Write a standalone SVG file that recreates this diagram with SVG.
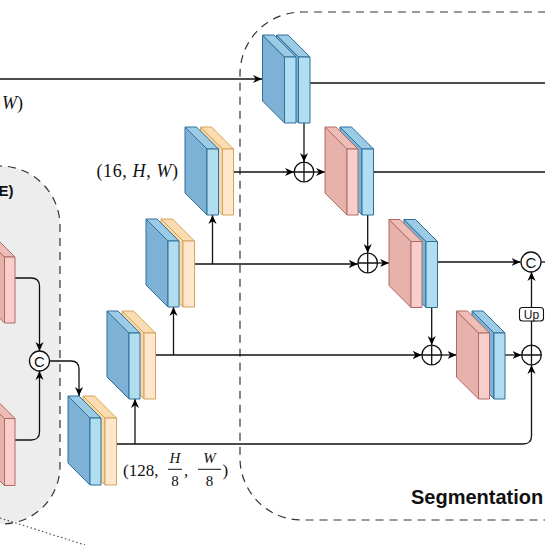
<svg xmlns="http://www.w3.org/2000/svg" width="545" height="545" viewBox="0 0 545 545">
<defs>
<marker id="arr" viewBox="0 0 10 10" refX="10" refY="5" markerWidth="9" markerHeight="9" orient="auto" markerUnits="userSpaceOnUse"><path d="M0,0.5 L10,5 L0,9.5 L3,5 z" fill="#000"/></marker>
<style>
.region{fill:none;stroke:#333;stroke-width:1.2;stroke-dasharray:8 6}
.gray{fill:#ededed;stroke:#333;stroke-width:1.2;stroke-dasharray:8 6}
.b .side{fill:#7eb1d6}.b .top{fill:#9ccbe6}.b .front{fill:#b1ddf0}
.b polygon,.b rect{stroke:#2f6f98;stroke-width:1;stroke-linejoin:round}
.y .side{fill:#f7d8a8}.y .top{fill:#fbdcb0}.y .front{fill:#ffe6cc}
.y polygon,.y rect{stroke:#d2a45c;stroke-width:1;stroke-linejoin:round}
.p .side{fill:#e6b2ab}.p .top{fill:#efbdb7}.p .front{fill:#f8cecc}
.p polygon,.p rect{stroke:#b06a62;stroke-width:1;stroke-linejoin:round}
.ln{fill:none;stroke:#111;stroke-width:1.3}
.ar{marker-end:url(#arr)}
.op{fill:#fff;stroke:#111;stroke-width:1.3}
.math{font-family:"Liberation Serif","DejaVu Serif",serif;fill:#111}
.sans{font-family:"Liberation Sans",Arial,sans-serif;fill:#111}
</style>
</defs>
<rect width="545" height="545" fill="#fff"/>
<!-- regions -->
<path class="gray" d="M-20,166 H0 A60,60 0 0 1 60,226 V466 A58,58 0 0 1 2,524 H-20 Z"/>
<path class="region" d="M560,12 H302 A62,62 0 0 0 240,74 V458 A62,62 0 0 0 302,520 H560"/>
<text class="sans" x="13.5" y="196" font-size="15" font-weight="bold" text-anchor="end">E)</text>
<text class="sans" x="411" y="504" font-size="20" font-weight="bold">Segmentation</text>
<!-- connectors -->
<g id="connectors">
<path class="ln ar" d="M0,79 H262"/>
<path class="ln" d="M310,83 H545"/>
<path class="ln" d="M373.5,172 H545"/>
<path class="ln ar" d="M233.5,172 H294"/>
<path class="ln ar" d="M194.5,264 H357.7"/>
<path class="ln ar" d="M155.5,355 H421.7"/>
<path class="ln ar" d="M116.5,444 H523 Q531.5,444 531.5,436 V365"/>
<path class="ln ar" d="M135,444 V399"/>
<path class="ln ar" d="M173.5,355 V307"/>
<path class="ln ar" d="M212.5,264 V215"/>
<path class="ln ar" d="M304,123 V162"/>
<path class="ln ar" d="M367.7,215 V253"/>
<path class="ln ar" d="M431.7,307.5 V345"/>
<path class="ln ar" d="M314,172 H325"/>
<path class="ln ar" d="M377.7,263 H389"/>
<path class="ln ar" d="M441.7,355 H456.5"/>
<path class="ln ar" d="M437.5,262 H520.5"/>
<path class="ln ar" d="M505,355 H521.5"/>
<path class="ln" d="M531.5,345 V321"/>
<path class="ln ar" d="M531.5,307.5 V272"/>
<path class="ln" d="M541,262 H545"/>
<path class="ln ar" d="M15,278 H31 Q39.5,278 39.5,286 V351"/>
<path class="ln ar" d="M15,440 H31 Q39.5,440 39.5,432 V371"/>
<path class="ln ar" d="M49.5,361 H71 Q79,361 79,369 V396"/>
<path fill="none" stroke="#444" stroke-width="1.1" stroke-dasharray="1.5 2.5" d="M0,518 L85,545"/>
</g>
<!-- encoder blocks -->
<g id="enc1">
<g class="y"><polygon class="side" points="200.5,127 222.5,149 222.5,215 200.5,193"/><polygon class="top" points="200.5,127 211.5,127 233.5,149 222.5,149"/><rect class="front" x="222.5" y="149" width="11" height="66"/></g>
<g class="b"><polygon class="side" points="185,127 207,149 207,215 185,193"/><polygon class="top" points="185,127 196.5,127 218.5,149 207,149"/><rect class="front" x="207" y="149" width="11.5" height="66"/></g>
</g>
<g id="enc2">
<g class="y"><polygon class="side" points="161,219 183,241 183,307 161,285"/><polygon class="top" points="161,219 172.5,219 194.5,241 183,241"/><rect class="front" x="183" y="241" width="11.5" height="66"/></g>
<g class="b"><polygon class="side" points="146,219 168,241 168,307 146,285"/><polygon class="top" points="146,219 157,219 179,241 168,241"/><rect class="front" x="168" y="241" width="11" height="66"/></g>
</g>
<g id="enc3">
<g class="y"><polygon class="side" points="122,311 144,333 144,399 122,377"/><polygon class="top" points="122,311 133.5,311 155.5,333 144,333"/><rect class="front" x="144" y="333" width="11.5" height="66"/></g>
<g class="b"><polygon class="side" points="107,311 129,333 129,399 107,377"/><polygon class="top" points="107,311 118,311 140,333 129,333"/><rect class="front" x="129" y="333" width="11" height="66"/></g>
</g>
<g id="enc4">
<g class="y"><polygon class="side" points="83,396 105,418 105,485 83,463"/><polygon class="top" points="83,396 94.5,396 116.5,418 105,418"/><rect class="front" x="105" y="418" width="11.5" height="67"/></g>
<g class="b"><polygon class="side" points="68,396 90,418 90,485 68,463"/><polygon class="top" points="68,396 79,396 101,418 90,418"/><rect class="front" x="90" y="418" width="11" height="67"/></g>
</g>
<!-- left pink blocks -->
<g id="left1" class="p"><polygon class="side" points="-17.5,235 4.5,257 4.5,323 -17.5,301"/><polygon class="top" points="-17.5,235 -7,235 15,257 4.5,257"/><rect class="front" x="4.5" y="257" width="10.5" height="66"/></g>
<g id="left2" class="p"><polygon class="side" points="-17.5,396.5 4.5,418.5 4.5,485.5 -17.5,463.5"/><polygon class="top" points="-17.5,396.5 -7,396.5 15,418.5 4.5,418.5"/><rect class="front" x="4.5" y="418.5" width="10.5" height="67"/></g>
<!-- decoder blocks -->
<g id="dec1">
<g class="b"><polygon class="side" points="276.5,35 298.5,57 298.5,123 276.5,101"/><polygon class="top" points="276.5,35 288,35 310,57 298.5,57"/><rect class="front" x="298.5" y="57" width="11.5" height="66"/></g>
<g class="b"><polygon class="side" points="262.5,35 284.5,57 284.5,123 262.5,101"/><polygon class="top" points="262.5,35 274,35 296,57 284.5,57"/><rect class="front" x="284.5" y="57" width="11.5" height="66"/></g>
</g>
<g id="dec2">
<g class="b"><polygon class="side" points="340,127 362,149 362,215 340,193"/><polygon class="top" points="340,127 351.5,127 373.5,149 362,149"/><rect class="front" x="362" y="149" width="11.5" height="66"/></g>
<g class="p"><polygon class="side" points="325,127 347,149 347,215 325,193"/><polygon class="top" points="325,127 336,127 358,149 347,149"/><rect class="front" x="347" y="149" width="11" height="66"/></g>
</g>
<g id="dec3">
<g class="b"><polygon class="side" points="404,219.5 426,241.5 426,307.5 404,285.5"/><polygon class="top" points="404,219.5 415.5,219.5 437.5,241.5 426,241.5"/><rect class="front" x="426" y="241.5" width="11.5" height="66"/></g>
<g class="p"><polygon class="side" points="389,219.5 411,241.5 411,307.5 389,285.5"/><polygon class="top" points="389,219.5 400,219.5 422,241.5 411,241.5"/><rect class="front" x="411" y="241.5" width="11" height="66"/></g>
</g>
<g id="dec4">
<g class="b"><polygon class="side" points="472,311 494,333 494,399 472,377"/><polygon class="top" points="472,311 483,311 505,333 494,333"/><rect class="front" x="494" y="333" width="11" height="66"/></g>
<g class="p"><polygon class="side" points="456.5,311 478.5,333 478.5,399 456.5,377"/><polygon class="top" points="456.5,311 467.5,311 489.5,333 478.5,333"/><rect class="front" x="478.5" y="333" width="11" height="66"/></g>
</g>
<!-- operators -->
<g id="add1"><circle class="op" cx="304" cy="172" r="9.8"/><path class="ln" d="M294.2,172 H313.8 M304,162.2 V181.8"/></g>
<g id="add2"><circle class="op" cx="367.7" cy="263" r="9.8"/><path class="ln" d="M357.9,263 H377.5 M367.7,253.2 V272.8"/></g>
<g id="add3"><circle class="op" cx="431.7" cy="355" r="9.8"/><path class="ln" d="M421.9,355 H441.5 M431.7,345.2 V364.8"/></g>
<g id="add4"><circle class="op" cx="531.5" cy="355" r="9.8"/><path class="ln" d="M521.7,355 H541.3 M531.5,345.2 V364.8"/></g>
<g id="cat1"><circle class="op" cx="531" cy="262" r="10"/><text class="sans" x="531" y="267.5" font-size="15" text-anchor="middle">C</text></g>
<g id="cat0"><circle class="op" cx="39.5" cy="361" r="10"/><text class="sans" x="39.5" y="366.5" font-size="15" text-anchor="middle">C</text></g>
<g id="up"><rect x="519.5" y="307.5" width="24" height="13.5" rx="3" fill="#fff" stroke="#111" stroke-width="1.1"/><text class="sans" x="531.5" y="318.5" font-size="12" text-anchor="middle">Up</text></g>
<!-- labels -->
<text class="math" x="23" y="109" font-size="18" text-anchor="end"><tspan font-style="italic">W</tspan>)</text>
<text class="math" x="96.5" y="177" font-size="18" textLength="81.5" lengthAdjust="spacing">(16, <tspan font-style="italic">H</tspan>, <tspan font-style="italic">W</tspan>)</text>
<g id="label128">
<text class="math" x="123" y="475.5" font-size="17">(128,</text>
<text class="math" x="175" y="463" font-size="15" font-style="italic" text-anchor="middle">H</text>
<path d="M168,469.3 H182" stroke="#111" stroke-width="1"/>
<text class="math" x="175" y="486" font-size="15" text-anchor="middle">8</text>
<text class="math" x="184" y="475.5" font-size="17">,</text>
<text class="math" x="209.5" y="463" font-size="15" font-style="italic" text-anchor="middle">W</text>
<path d="M198,469.3 H221" stroke="#111" stroke-width="1"/>
<text class="math" x="209.5" y="486" font-size="15" text-anchor="middle">8</text>
<text class="math" x="222.5" y="475.5" font-size="17">)</text>
</g>
</svg>
